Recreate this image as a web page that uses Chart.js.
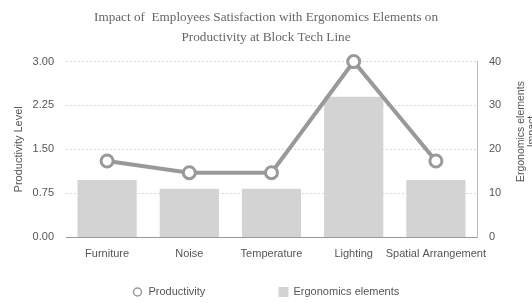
<!DOCTYPE html>
<html>
<head>
<meta charset="utf-8">
<script src="https://cdn.jsdelivr.net/npm/chart.js@4"></script>
<style>
  html, body { margin: 0; padding: 0; background: #fff; }
  #wrap { width: 532px; height: 303px; }
</style>
</head>
<body>
<div id="wrap"><canvas id="myChart"></canvas></div>
<script>
const categorias = ['Furniture', 'Noise', 'Temperature', 'Lighting', 'Spatial Arrangement'];
const productividad = [1.30, 1.10, 1.10, 3.00, 1.30];
const ergonomia = [13, 11, 11, 32, 13];
const ticksIzq = [0, 0.75, 1.5, 2.25, 3];
const ticksDer = [0, 10, 20, 30, 40];

const gris = '#999999';
const grisBarra = '#d3d3d3';
const texto = '#555';

Chart.defaults.font.family = "'Liberation Sans', Arial, sans-serif";
Chart.defaults.font.size = 11;
Chart.defaults.color = texto;

// titulo del eje derecho (se lee de abajo hacia arriba) y leyenda inferior
const extras = {
  id: 'extras',
  afterDraw(chart) {
    const ctx = chart.ctx;
    const area = chart.chartArea;
    ctx.save();
    ctx.fillStyle = texto;
    ctx.font = "10.5px 'Liberation Sans', Arial, sans-serif";
    ctx.textAlign = 'center';
    ctx.textBaseline = 'middle';
    ctx.translate(chart.width - 6, area.top + 70);
    ctx.rotate(-Math.PI / 2);
    ctx.fillText('Ergonomics elements', 0, -5);
    ctx.fillText('Impact', 0, 6);
    ctx.restore();

    // leyenda
    const ds = chart.data.datasets;
    const y = 292;
    const cx = (area.left + area.right) / 2;
    ctx.save();
    ctx.font = "11px 'Liberation Sans', Arial, sans-serif";
    ctx.textBaseline = 'middle';
    ctx.textAlign = 'left';
    let x = cx - 134;
    ctx.beginPath();
    ctx.arc(x, y, 4, 0, Math.PI * 2);
    ctx.fillStyle = '#fff';
    ctx.fill();
    ctx.lineWidth = 1.5;
    ctx.strokeStyle = ds[0].borderColor;
    ctx.stroke();
    ctx.fillStyle = texto;
    ctx.fillText(ds[0].label, x + 11, y);
    x = cx + 7;
    ctx.fillStyle = ds[1].backgroundColor;
    ctx.fillRect(x, y - 5, 10, 10);
    ctx.fillStyle = texto;
    ctx.fillText(ds[1].label, x + 15, y);
    ctx.restore();
  }
};

new Chart(document.getElementById('myChart'), {
  data: {
    labels: categorias,
    datasets: [{
      type: 'line',
      label: 'Productivity',
      data: productividad,
      yAxisID: 'y',
      order: 0,
      clip: false,
      borderColor: gris,
      borderWidth: 4,
      pointRadius: 6,
      pointBorderWidth: 3,
      pointBackgroundColor: '#fff',
      pointBorderColor: gris,
      tension: 0
    }, {
      type: 'bar',
      label: 'Ergonomics elements',
      data: ergonomia,
      yAxisID: 'y1',
      order: 1,
      backgroundColor: grisBarra,
      barPercentage: 1,
      categoryPercentage: 0.72
    }]
  },
  options: {
    responsive: true,
    maintainAspectRatio: false,
    animation: false,
    layout: { padding: 0 },
    plugins: {
      legend: { display: false },
      tooltip: { enabled: false },
      title: {
        display: true,
        text: ['Impact of  Employees Satisfaction with Ergonomics Elements on', 'Productivity at Block Tech Line'],
        color: '#666',
        font: { family: "'Liberation Serif', 'Times New Roman', serif", size: 13.2, weight: 'normal', lineHeight: 1.5 },
        padding: { top: 8, bottom: 14 }
      }
    },
    scales: {
      x: {
        grid: { display: false },
        border: { display: true, color: '#999' },
        ticks: { maxRotation: 0, autoSkip: false, padding: 2 },
        afterFit: (s) => { s.height = 66; }
      },
      y: {
        position: 'left',
        min: 0,
        max: 3,
        afterBuildTicks: (s) => { s.ticks = ticksIzq.map(v => ({ value: v })); },
        ticks: { padding: 12, callback: (v) => Number(v).toFixed(2) },
        grid: { color: '#d8d8d8', drawTicks: false },
        border: { display: false, dash: [2, 2] },
        title: { display: true, text: 'Productivity Level', padding: { top: 12, bottom: 4 } },
        afterFit: (s) => { s.width = 66; }
      },
      y1: {
        position: 'right',
        min: 0,
        max: 40,
        afterBuildTicks: (s) => { s.ticks = ticksDer.map(v => ({ value: v })); },
        ticks: { padding: 12 },
        grid: { display: false, drawTicks: false },
        border: { display: true, color: '#bbb' },
        afterFit: (s) => { s.width = 55; }
      }
    }
  },
  plugins: [extras]
});
</script>
</body>
</html>
